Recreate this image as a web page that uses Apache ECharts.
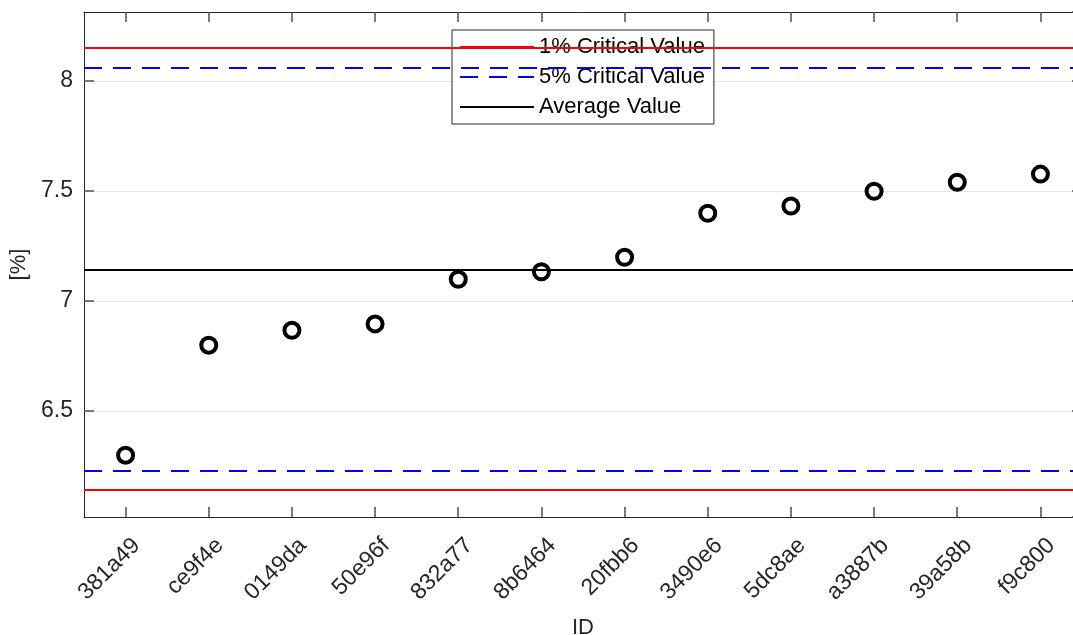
<!DOCTYPE html>
<html>
<head>
<meta charset="utf-8">
<script src="https://cdn.jsdelivr.net/npm/echarts@6/dist/echarts.min.js"></script>
<style>
  html, body { margin: 0; padding: 0; background: #ffffff; }
  #chart { width: 1073px; height: 635px; }
</style>
</head>
<body>
<div id="chart"></div>
<script>
// Sample IDs along the x axis
const ids = ['381a49', 'ce9f4e', '0149da', '50e96f', '832a77', '8b6464',
             '20fbb6', '3490e6', '5dc8ae', 'a3887b', '39a58b', 'f9c800'];

// Measured value for each ID, in percent
const values = [6.299, 6.799, 6.867, 6.896, 7.099, 7.133,
                7.199, 7.399, 7.432, 7.499, 7.540, 7.577];

// Reference levels: [lower, upper]
const critical1 = [6.141, 8.150];
const critical5 = [6.227, 8.064];
const averageValue = 7.145;

// Y axis range
const yMin = 6.018;
const yMax = 8.314;

const FONT = '"Liberation Sans", Arial, Helvetica, sans-serif';
const INK = '#262626';
const TICK = { show: true, inside: true, length: 10, lineStyle: { color: '#505050', width: 1.5 } };

function refLine(name, color, type, levels) {
  return {
    name: name,
    type: 'line',
    data: [],
    symbol: 'none',
    lineStyle: { color: color, width: 2, type: type },
    itemStyle: { color: color },
    markLine: {
      silent: true,
      symbol: ['none', 'none'],
      label: { show: false },
      animation: false,
      lineStyle: { color: color, width: 2, type: type },
      data: levels.map(v => ({ yAxis: v }))
    }
  };
}

const chart = echarts.init(document.getElementById('chart'), null, { renderer: 'canvas' });

chart.setOption({
  backgroundColor: '#ffffff',
  animation: false,
  textStyle: { fontFamily: FONT },
  grid: { left: 84, top: 12, width: 998, height: 505, containLabel: false, outerBoundsMode: 'none' },
  legend: {
    orient: 'vertical',
    left: 452,
    top: 30,
    data: ['1% Critical Value', '5% Critical Value', 'Average Value'],
    backgroundColor: '#ffffff',
    borderColor: INK,
    borderWidth: 1,
    padding: [6, 9, 6, 7],
    itemWidth: 74,
    itemHeight: 14,
    itemGap: 8,
    itemStyle: { opacity: 0 },
    textStyle: { fontFamily: FONT, fontSize: 22, color: '#000000', lineHeight: 22 }
  },
  xAxis: [
    {
      type: 'category',
      data: ids,
      position: 'bottom',
      boundaryGap: true,
      name: 'ID',
      nameLocation: 'middle',
      nameGap: 100,
      nameTextStyle: { fontFamily: FONT, fontSize: 22, color: INK },
      axisLine: { show: true, lineStyle: { color: INK, width: 1 } },
      axisTick: Object.assign({ interval: 0, alignWithLabel: true }, TICK),
      axisLabel: {
        rotate: 45, interval: 0, margin: 14,
        verticalAlign: 'top', padding: [4, 0, 0, 0],
        fontFamily: FONT, fontSize: 23, color: INK
      },
      splitLine: { show: false }
    },
    {
      type: 'category',
      data: ids,
      position: 'top',
      boundaryGap: true,
      axisLine: { show: true, lineStyle: { color: INK, width: 1 } },
      axisTick: Object.assign({ interval: 0, alignWithLabel: true }, TICK),
      axisLabel: { show: false },
      splitLine: { show: false }
    }
  ],
  yAxis: [
    {
      type: 'value',
      min: yMin,
      max: yMax,
      splitNumber: 5,
      position: 'left',
      name: '[%]',
      nameLocation: 'middle',
      nameGap: 45,
      nameTextStyle: { fontFamily: FONT, fontSize: 22, color: INK },
      axisLine: { show: true, lineStyle: { color: INK, width: 1 } },
      axisTick: TICK,
      axisLabel: { margin: 11, fontFamily: FONT, fontSize: 23, color: INK, showMinLabel: false, showMaxLabel: false },
      splitLine: { show: true, lineStyle: { color: '#e6e6e6', width: 1 } }
    },
    {
      type: 'value',
      min: yMin,
      max: yMax,
      splitNumber: 5,
      position: 'right',
      axisLine: { show: true, lineStyle: { color: INK, width: 1 } },
      axisTick: TICK,
      axisLabel: { show: false },
      splitLine: { show: false }
    }
  ],
  series: [
    {
      name: 'values',
      type: 'scatter',
      data: values,
      symbol: 'circle',
      symbolSize: 15,
      itemStyle: { color: 'rgba(0,0,0,0)', borderColor: '#000000', borderWidth: 4, opacity: 1 },
      z: 3
    },
    refLine('1% Critical Value', '#ff0000', 'solid', critical1),
    refLine('5% Critical Value', '#0000ff', [18, 11], critical5),
    refLine('Average Value', '#000000', 'solid', [averageValue])
  ]
});
</script>
</body>
</html>
